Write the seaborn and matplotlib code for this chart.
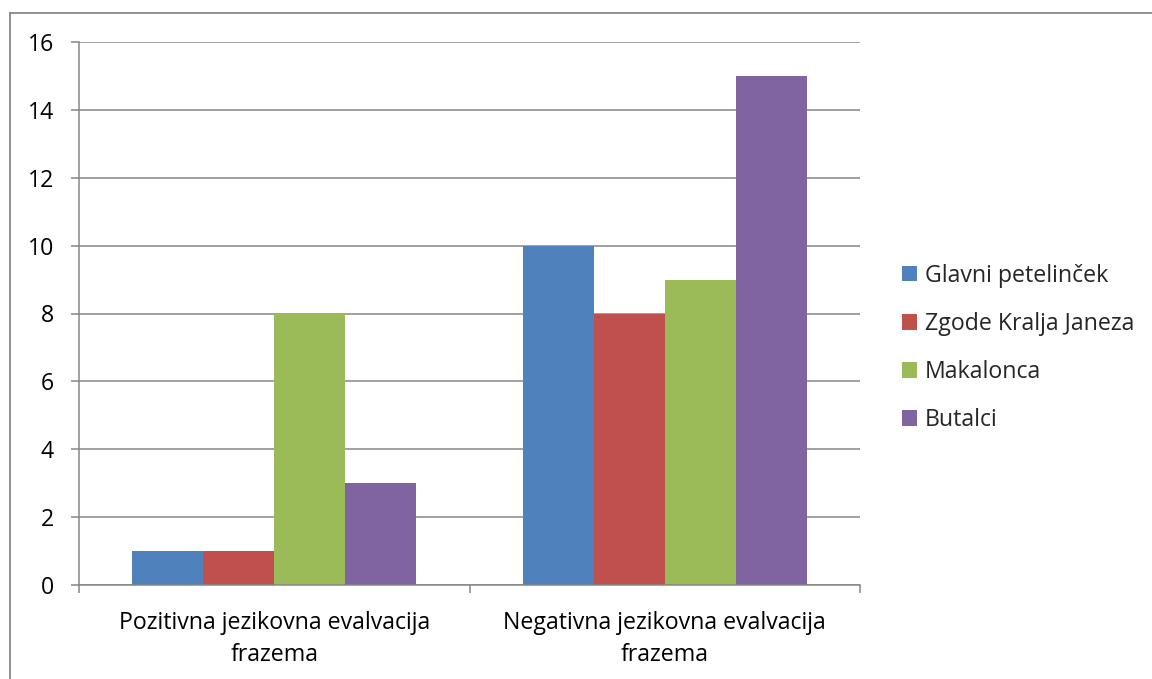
import matplotlib
matplotlib.use("Agg")
import matplotlib.pyplot as plt
from matplotlib.lines import Line2D
import seaborn as sns
import pandas as pd

categories = ["Pozitivna jezikovna evalvacija\nfrazema",
              "Negativna jezikovna evalvacija\nfrazema"]
series = ["Glavni petelinček", "Zgode Kralja Janeza", "Makalonca", "Butalci"]
values = {
    "Glavni petelinček": [1, 10],
    "Zgode Kralja Janeza": [1, 8],
    "Makalonca": [8, 9],
    "Butalci": [3, 15],
}
colors = ["#4F81BD", "#C0504D", "#9BBB59", "#8064A2"]
y_ticks = [0, 2, 4, 6, 8, 10, 12, 14, 16]

rows = []
for s in series:
    for c, v in zip(categories, values[s]):
        rows.append({"kategorija": c, "serija": s, "vrednost": v})
df = pd.DataFrame(rows)

sns.set_theme(style="white")
plt.rcParams["font.family"] = ["Open Sans", "DejaVu Sans"]
FS = 16.7
GRID = "#868686"

fig = plt.figure(figsize=(11.52, 6.79), dpi=100)
ax = fig.add_axes([79 / 1152, 1 - 585 / 679, (860 - 79) / 1152, (585 - 42) / 679])

sns.barplot(data=df, x="kategorija", y="vrednost", hue="serija",
            hue_order=series, order=categories, palette=colors,
            width=4 / 5.5, gap=0, saturation=1, linewidth=0, ax=ax)

ax.set_xlim(-0.5, 1.5)
ax.set_ylim(0, 16)
ax.set_yticks(y_ticks)
ax.set_yticklabels([str(t) for t in y_ticks], fontsize=FS, color="black")
ax.yaxis.grid(True, color=GRID, linewidth=1.1)
ax.set_axisbelow(True)
ax.set_xlabel("")
ax.set_ylabel("")

ax.set_xticks([0, 1])
ax.set_xticklabels(categories, fontsize=FS, color="black", linespacing=1.45)
ax.set_xticks([-0.5, 0.5, 1.5], minor=True)
ax.tick_params(axis="x", which="major", length=0, pad=19)
ax.tick_params(axis="x", which="minor", length=6, width=1.1, color=GRID,
               direction="out", bottom=True)
ax.tick_params(axis="y", which="major", length=6, width=1.1, color=GRID,
               direction="out", left=True, pad=12)

for side in ["top", "right"]:
    ax.spines[side].set_visible(False)
for side in ["left", "bottom"]:
    ax.spines[side].set_color(GRID)
    ax.spines[side].set_linewidth(1.1)

handles, labels = ax.get_legend_handles_labels()
ax.legend(handles, labels, loc="center left",
          bbox_to_anchor=(902 / 1152, 1 - 348 / 679),
          bbox_transform=fig.transFigure, frameon=False, fontsize=FS,
          handlelength=0.65, handleheight=0.65, handletextpad=0.35,
          labelspacing=1.04, borderaxespad=0, borderpad=0)

# outer chart frame (top and left edges)
fig.add_artist(Line2D([10 / 1152, 10 / 1152], [0, 1 - 13 / 679],
                      transform=fig.transFigure, color=GRID, linewidth=1.3))
fig.add_artist(Line2D([10 / 1152, 1], [1 - 13 / 679, 1 - 13 / 679],
                      transform=fig.transFigure, color=GRID, linewidth=1.3))

fig.savefig("out.png", dpi=100, facecolor="white")
